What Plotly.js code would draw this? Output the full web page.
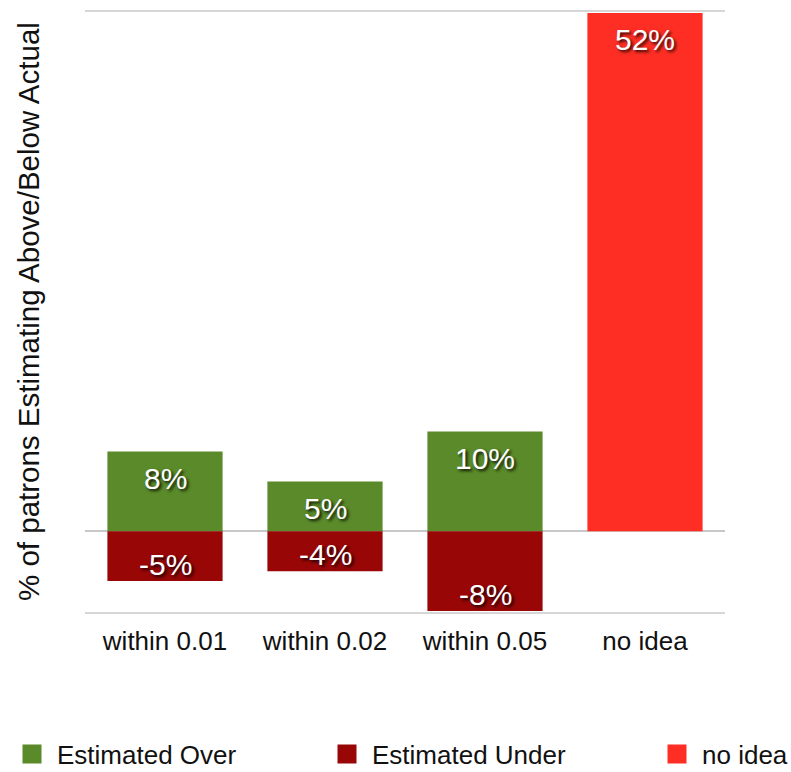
<!DOCTYPE html>
<html>
<head>
<meta charset="utf-8">
<script src="https://cdn.plot.ly/plotly-3.0.1.min.js"></script>
<style>
  html, body { margin: 0; padding: 0; background: #ffffff; }
  #chart { width: 791px; height: 772px; }
</style>
</head>
<body>
<div id="chart"></div>
<script>
// Survey: how close patrons' estimates were to the actual figure
const categories = ["within 0.01", "within 0.02", "within 0.05", "no idea"];
const overCats = ["within 0.01", "within 0.02", "within 0.05"];
const estimatedOver = [8, 5, 10];
const estimatedUnder = [-5, -4, -8];
const noIdeaCats = ["no idea"];
const noIdea = [52];

const FONT = "Liberation Sans, Arial, Helvetica, sans-serif";
const COLORS = { over: "#5a8a29", under: "#980606", noidea: "#fe2e24" };

const series = [
  { name: "Estimated Over", x: overCats, y: estimatedOver, color: COLORS.over, legend: "legend" },
  { name: "Estimated Under", x: overCats, y: estimatedUnder, color: COLORS.under, legend: "legend2" },
  { name: "no idea", x: noIdeaCats, y: noIdea, color: COLORS.noidea, legend: "legend3" }
];

const bars = series.map(s => ({
  type: "bar",
  name: s.name,
  x: s.x,
  y: s.y,
  legendgroup: s.name,
  showlegend: false,
  marker: { color: s.color, line: { width: 0 } },
  hoverinfo: "skip"
}));

// legend keys: larger square swatches than the default bar icon
const keys = series.map(s => ({
  type: "scatter",
  mode: "markers",
  name: s.name,
  x: [null],
  y: [null],
  legend: s.legend,
  legendgroup: s.name,
  showlegend: true,
  marker: { symbol: "square", size: 16, color: s.color, line: { color: s.color, width: 3 } },
  hoverinfo: "skip"
}));

// value labels sit just inside the outer end of each bar
const labelFont = {
  family: FONT, size: 30, color: "#ffffff",
  shadow: "2px 2px 3px rgba(0,0,0,0.85)"
};
const annotations = [];
series.forEach(s => {
  s.y.forEach((v, i) => {
    annotations.push({
      x: s.x[i], y: v, xref: "x", yref: "y",
      text: v + "%", showarrow: false,
      yshift: v >= 0 ? -27 : 17,
      font: labelFont
    });
  });
});

// vertical axis title
annotations.push({
  text: "% of patrons Estimating Above/Below Actual",
  xref: "paper", yref: "paper",
  x: (28 - 85) / 640, y: 0.5,
  xanchor: "center", yanchor: "middle",
  textangle: -90, showarrow: false,
  font: { family: FONT, size: 29.5, color: "#111111" }
});

// horizontal rules at the top and bottom of the value range
const yRange = [-8.3, 52.3];
const ruleValues = [-8.2, 52.2];
const shapes = ruleValues.map(v => ({
  type: "line", xref: "paper", yref: "y",
  x0: 0, x1: 1, y0: v, y1: v,
  layer: "below",
  line: { color: "#c8c8c8", width: 1.5 }
}));

const legendBase = {
  orientation: "h",
  xref: "container", yref: "container",
  yanchor: "middle", y: 1 - 754 / 772,
  xanchor: "left",
  itemwidth: 40,
  font: { family: FONT, size: 26, color: "#111111" },
  bgcolor: "rgba(0,0,0,0)",
  itemclick: false, itemdoubleclick: false
};

const layout = {
  width: 791,
  height: 772,
  margin: { l: 85, r: 66, t: 10, b: 158 },
  paper_bgcolor: "#ffffff",
  plot_bgcolor: "#ffffff",
  barmode: "relative",
  bargap: 0.28,
  showlegend: true,
  legend: Object.assign({}, legendBase, { x: 7 / 791 }),
  legend2: Object.assign({}, legendBase, { x: 322 / 791 }),
  legend3: Object.assign({}, legendBase, { x: 652 / 791 }),
  xaxis: {
    type: "category",
    categoryarray: categories,
    categoryorder: "array",
    range: [-0.5, categories.length - 0.5],
    showgrid: false,
    showline: false,
    zeroline: false,
    ticks: "",
    ticklabelstandoff: 9,
    tickfont: { family: FONT, size: 26, color: "#111111" },
    fixedrange: true
  },
  yaxis: {
    range: yRange,
    showticklabels: false,
    ticks: "",
    showgrid: false,
    zeroline: true,
    zerolinecolor: "#c8c8c8",
    zerolinewidth: 2,
    layer: "above traces",
    showline: false,
    fixedrange: true
  },
  shapes: shapes,
  annotations: annotations
};

Plotly.newPlot("chart", bars.concat(keys), layout, { displayModeBar: false, staticPlot: true });
</script>
</body>
</html>
